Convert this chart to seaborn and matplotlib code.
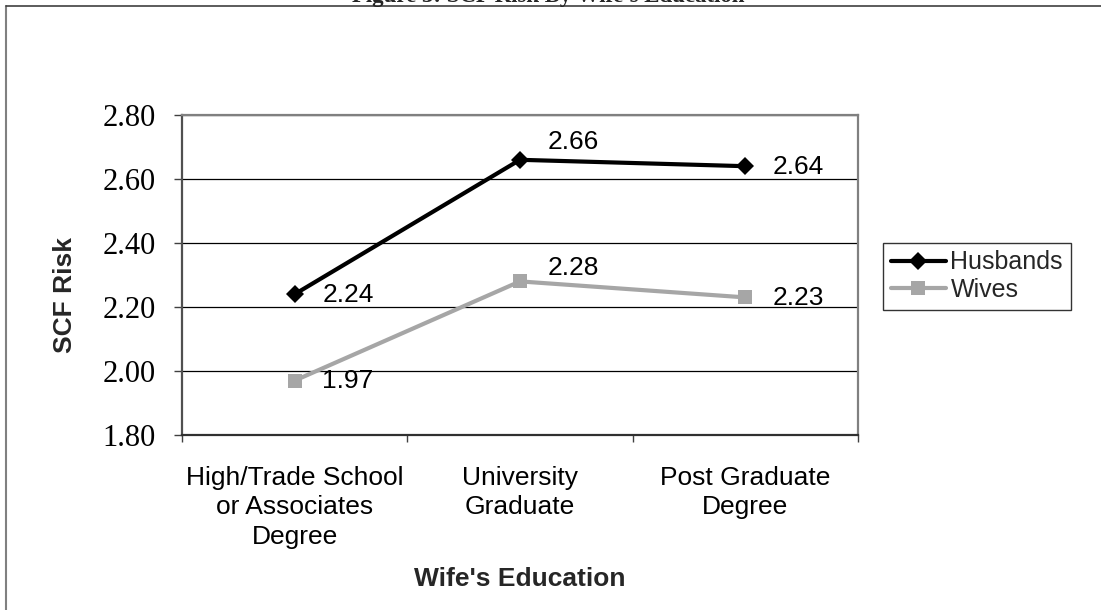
import numpy as np
import pandas as pd
import matplotlib.pyplot as plt
import seaborn as sns
from matplotlib.lines import Line2D

categories = ["High/Trade School\nor Associates\nDegree", "University\nGraduate", "Post Graduate\nDegree"]
husbands = [2.24, 2.66, 2.64]
wives = [1.97, 2.28, 2.23]
series_names = ["Husbands", "Wives"]
y_ticks = [1.80, 2.00, 2.20, 2.40, 2.60, 2.80]

df = pd.DataFrame({
    "education": categories * 2,
    "risk": husbands + wives,
    "spouse": [series_names[0]] * 3 + [series_names[1]] * 3,
})

sns.set_theme(style="white")
plt.rcParams["font.family"] = ["Liberation Sans", "DejaVu Sans"]

W, H = 1101, 610
fig = plt.figure(figsize=(W / 100, H / 100), dpi=100)
ax = fig.add_axes([182 / W, 1 - 435 / H, (858 - 182) / W, (435 - 115) / H])

colors = {"Husbands": "#000000", "Wives": "#A6A6A6"}
sns.lineplot(data=df, x="education", y="risk", hue="spouse", style="spouse",
             palette=colors, markers={"Husbands": "D", "Wives": "s"},
             dashes=False, linewidth=3, legend=False, ax=ax, sort=False)

sizes = [9, 10]
for line, name, ms in zip(ax.lines, series_names, sizes):
    line.set_markersize(ms)
    line.set_markeredgecolor(colors[name])
    line.set_markeredgewidth(0)
    line.set_label(name)
    line.set_zorder(3)

# data labels: right of the point, middle ones a bit higher
for vals, dy_mid in [(husbands, 13), (wives, 10)]:
    for i, v in enumerate(vals):
        dy = dy_mid if i == 1 else -0.5
        ax.annotate(f"{v:.2f}", (i, v), xytext=(20, dy), textcoords="offset points",
                    ha="left", va="center", fontsize=19, color="black", zorder=4)

ax.set_xlim(-0.5, 2.5)
ax.set_ylim(1.8, 2.8)
ax.set_xticks([0, 1, 2])
ax.set_xticklabels(categories, fontsize=19, linespacing=1.3)
ax.set_xticks([-0.5, 0.5, 1.5, 2.5], minor=True)
ax.tick_params(axis="x", which="major", length=0, pad=22, colors="black")
ax.tick_params(axis="x", which="minor", bottom=True, length=5, width=1, color="#404040")
ax.set_yticks(y_ticks)
ax.set_yticklabels([f"{t:.2f}" for t in y_ticks], fontsize=22, family="Liberation Serif")
ax.tick_params(axis="y", left=True, length=6, width=1, pad=13, color="#404040", labelcolor="black")

ax.yaxis.grid(True, color="black", linewidth=0.9)
ax.xaxis.grid(False)
ax.set_axisbelow(True)

for side in ["top", "right"]:
    ax.spines[side].set_color("#808080")
    ax.spines[side].set_linewidth(1.6)
ax.spines["left"].set_color("#505050")
ax.spines["left"].set_linewidth(1.6)
ax.spines["bottom"].set_color("#303030")
ax.spines["bottom"].set_linewidth(1.6)

ax.set_xlabel("Wife's Education", fontsize=19, fontweight="bold", va="baseline")
ax.xaxis.set_label_coords(0.5, (435 - 586.5) / 320)
ax.set_ylabel("SCF Risk", fontsize=19, fontweight="bold", va="baseline")
ax.yaxis.set_label_coords((72 - 182) / 676, 0.4375)

leg = ax.legend(loc="upper left", bbox_to_anchor=(883 / W, 1 - 243 / H),
                bbox_transform=fig.transFigure, fontsize=18, frameon=True,
                fancybox=False, edgecolor="black", handlelength=2.2,
                handletextpad=0.2, labelspacing=0.15, borderpad=0.3, borderaxespad=0)
leg.get_frame().set_linewidth(1.0)

# title sits mostly above the top edge, as in the source page crop
fig.text(548 / W, 1 - 2 / H, "Figure 3: SCF Risk By Wife's Education", ha="center",
         va="baseline", fontsize=16.5, fontweight="bold", family="Liberation Serif")
fig.add_artist(Line2D([6.5 / W, 6.5 / W], [0, 1 - 6 / H], color="#808080", linewidth=1.5))
fig.add_artist(Line2D([6.5 / W, 1], [1 - 6 / H, 1 - 6 / H], color="#404040", linewidth=1.2))

fig.savefig("out.png", dpi=100)
